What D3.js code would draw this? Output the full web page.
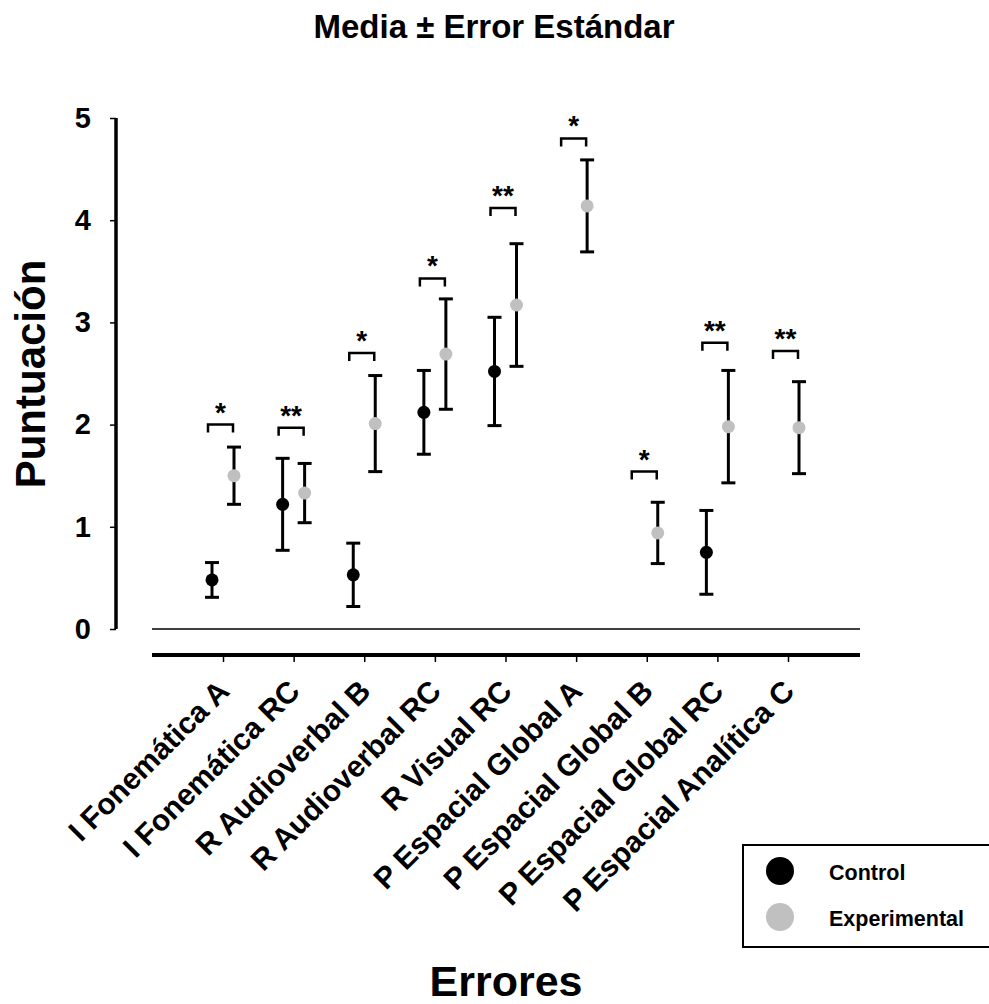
<!DOCTYPE html>
<html>
<head>
<meta charset="utf-8">
<script src="https://cdn.jsdelivr.net/npm/d3@7/dist/d3.min.js"></script>
<style>
  body { margin: 0; background: #fff; }
  svg { display: block; font-family: "Liberation Sans", Arial, sans-serif; font-weight: bold; }
</style>
</head>
<body>
<svg id="chart" width="989" height="1004"></svg>
<script>
// Error categories
const categories = [
  "I Fonemática A", "I Fonemática RC", "R Audioverbal B", "R Audioverbal RC",
  "R Visual RC", "P Espacial Global A", "P Espacial Global B",
  "P Espacial Global RC", "P Espacial Analítica C"
];
// Means and standard errors (null = no value for that group)
const controlMean = [0.48, 1.22, 0.53, 2.12, 2.52, null, null, 0.75, null];
const controlSE   = [0.17, 0.45, 0.31, 0.41, 0.53, null, null, 0.41, null];
const experimentalMean = [1.50, 1.33, 2.01, 2.69, 3.17, 4.14, 0.94, 1.98, 1.97];
const experimentalSE   = [0.28, 0.29, 0.47, 0.54, 0.60, 0.45, 0.30, 0.55, 0.45];
// Significance markers and bracket heights
const sigLabels = ["*", "**", "*", "*", "**", "*", "*", "**", "**"];
const sigLevel  = [2.00, 1.97, 2.70, 3.43, 4.12, 4.80, 1.54, 2.80, 2.72];
const yTicks = [0, 1, 2, 3, 4, 5];

const svg = d3.select("#chart");
const x = d3.scalePoint().domain(categories).range([223, 788]);
const y = d3.scaleLinear().domain([0, 5]).range([629, 118]);
const offset = 11;

// Title
svg.append("text").attr("x", 494).attr("y", 38)
  .attr("text-anchor", "middle").attr("font-size", 33).text("Media ± Error Estándar");

// Y axis
const yAxis = svg.append("g").attr("transform", "translate(116,0)")
  .call(d3.axisLeft(y).tickValues(yTicks).tickFormat(d3.format("d")).tickSize(6).tickPadding(19));
yAxis.select(".domain").attr("stroke", "#000").attr("stroke-width", 3.5).attr("d", `M0,${y(5)}V${y(0)}`);
yAxis.selectAll(".tick line").attr("stroke-width", 1.5);
yAxis.selectAll(".tick text").attr("font-size", 29).attr("font-weight", "bold")
  .attr("font-family", "Liberation Sans, Arial, sans-serif").attr("fill", "#000");

svg.append("text").attr("transform", "translate(45,374) rotate(-90)")
  .attr("text-anchor", "middle").attr("font-size", 42).text("Puntuación");

// Zero reference line
svg.append("line").attr("x1", 152).attr("x2", 860).attr("y1", y(0)).attr("y2", y(0))
  .attr("stroke", "#000").attr("stroke-width", 1.3);

// X axis
const xAxis = svg.append("g").attr("transform", "translate(0,655)")
  .call(d3.axisBottom(x).tickSize(7).tickSizeOuter(0).tickFormat(""));
xAxis.select(".domain").attr("stroke-width", 4).attr("d", "M152,0H860");
xAxis.selectAll(".tick line").attr("stroke-width", 1.5);

svg.append("g").selectAll("text").data(categories).join("text")
  .attr("transform", d => `translate(${x(d) + 8},${693}) rotate(-45)`)
  .attr("text-anchor", "end").attr("font-size", 30).text(d => d);

svg.append("text").attr("x", 506).attr("y", 996)
  .attr("text-anchor", "middle").attr("font-size", 43).text("Errores");

// Error bars and points
function drawSeries(means, ses, dx, color) {
  const rows = categories.map((c, i) => ({ c, m: means[i], s: ses[i] })).filter(d => d.m !== null);
  const g = svg.append("g");
  const bars = g.selectAll("g").data(rows).join("g");
  bars.append("line")
    .attr("x1", d => x(d.c) + dx).attr("x2", d => x(d.c) + dx)
    .attr("y1", d => y(d.m + d.s)).attr("y2", d => y(d.m - d.s))
    .attr("stroke", "#000").attr("stroke-width", 3);
  [1, -1].forEach(sign => {
    bars.append("line")
      .attr("x1", d => x(d.c) + dx - 7).attr("x2", d => x(d.c) + dx + 7)
      .attr("y1", d => y(d.m + sign * d.s)).attr("y2", d => y(d.m + sign * d.s))
      .attr("stroke", "#000").attr("stroke-width", 3);
  });
  bars.append("circle")
    .attr("cx", d => x(d.c) + dx).attr("cy", d => y(d.m)).attr("r", 6.5)
    .attr("fill", color);
}
drawSeries(controlMean, controlSE, -offset, "#000");
drawSeries(experimentalMean, experimentalSE, offset, "#c0c0c0");

// Significance brackets
const sig = svg.append("g").selectAll("g").data(categories).join("g");
sig.append("path")
  .attr("d", (d, i) => {
    const x0 = x(d) - 15, x1 = x(d) + 10, yy = y(sigLevel[i]);
    return `M${x0},${yy + 8}V${yy}H${x1}V${yy + 8}`;
  })
  .attr("fill", "none").attr("stroke", "#000").attr("stroke-width", 2.5);
sig.append("text")
  .attr("x", d => x(d) - 2.5).attr("y", (d, i) => y(sigLevel[i]) - 3)
  .attr("text-anchor", "middle").attr("font-size", 28)
  .text((d, i) => sigLabels[i]);

// Legend
const legend = svg.append("g");
legend.append("rect").attr("x", 743).attr("y", 845).attr("width", 260).attr("height", 102)
  .attr("fill", "#fff").attr("stroke", "#000").attr("stroke-width", 2);
const legendItems = [{ name: "Control", color: "#000" }, { name: "Experimental", color: "#c0c0c0" }];
legend.selectAll("g").data(legendItems).join("g")
  .attr("transform", (d, i) => `translate(0,${871 + i * 46})`)
  .call(g => {
    g.append("circle").attr("cx", 780).attr("cy", 0).attr("r", 14).attr("fill", d => d.color);
    g.append("text").attr("x", 829).attr("y", 9).attr("font-size", 21.5).text(d => d.name);
  });
</script>
</body>
</html>
